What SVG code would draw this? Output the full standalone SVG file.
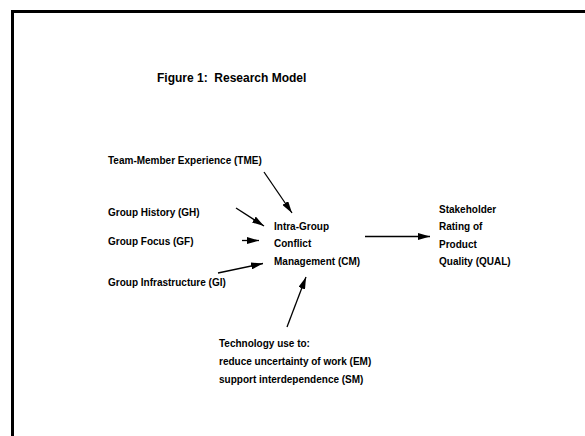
<svg xmlns="http://www.w3.org/2000/svg" width="585" height="436" viewBox="0 0 585 436">
<defs>
<style>
text{font-family:"Liberation Sans",Arial,sans-serif;font-weight:bold;font-size:10px;fill:#000}
.title{font-size:12px;white-space:pre}
.c{stroke:#000;stroke-width:1.3;fill:none;marker-end:url(#ah)}
</style>
<marker id="ah" viewBox="0 0 12 7" refX="12" refY="3.5" markerWidth="12" markerHeight="7" markerUnits="userSpaceOnUse" orient="auto">
<path d="M0,0 L12,3.5 L0,7 Z" fill="#000"/>
</marker>
</defs>
<rect width="585" height="436" fill="#fff"/>
<path d="M12.5,436 V11.5 H585" stroke="#000" stroke-width="3" fill="none"/>
<text class="title" x="157" y="82" xml:space="preserve">Figure 1:  Research Model</text>
<g id="TME"><text x="108" y="164">Team-Member Experience (TME)</text></g>
<g id="GH"><text x="108" y="216">Group History (GH)</text></g>
<g id="GF"><text x="108" y="245">Group Focus (GF)</text></g>
<g id="GI"><text x="108" y="286">Group Infrastructure (GI)</text></g>
<g id="CM"><text x="274" y="230">Intra-Group</text><text x="274" y="247">Conflict</text><text x="274" y="265">Management (CM)</text></g>
<g id="QUAL"><text x="439" y="213">Stakeholder</text><text x="439" y="230">Rating of</text><text x="439" y="247.5">Product</text><text x="439" y="265">Quality (QUAL)</text></g>
<g id="TECH"><text x="219" y="347">Technology use to:</text><text x="219" y="365">reduce uncertainty of work (EM)</text><text x="219" y="383">support interdependence (SM)</text></g>
<g id="connectors">
<line class="c" x1="264" y1="172" x2="292" y2="213"/>
<line class="c" x1="236" y1="208" x2="264" y2="226"/>
<line class="c" x1="242" y1="240.5" x2="259" y2="240.5"/>
<line class="c" x1="218" y1="273" x2="263" y2="263.5"/>
<line class="c" x1="287" y1="327" x2="306" y2="277"/>
<line class="c" x1="365" y1="236.5" x2="430" y2="236.5"/>
</g>
</svg>
